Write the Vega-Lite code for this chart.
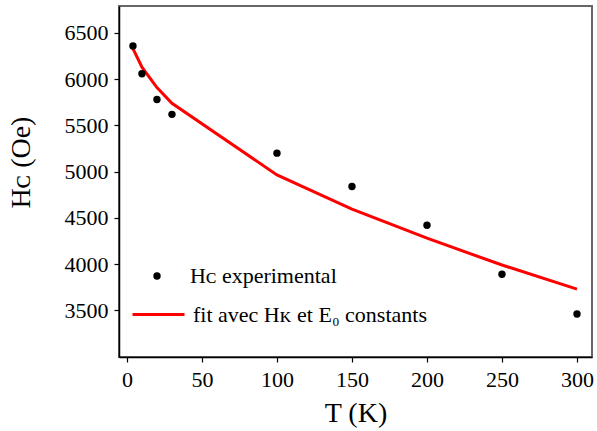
{
  "$schema": "https://vega.github.io/schema/vega-lite/v6.json",
  "width": 473,
  "height": 351,
  "autosize": {"type": "none"},
  "padding": {"left": 119, "top": 6, "right": 5, "bottom": 74},
  "background": "white",
  "config": {
    "view": {"stroke": "#666666", "strokeWidth": 2},
    "numberFormat": "d",
    "style": {
      "guide-label": {"font": "Liberation Serif", "fontSize": 22},
      "guide-title": {"font": "Liberation Serif", "fontSize": 28, "fontWeight": "normal"}
    },
    "axis": {
      "labelFontSize": 22,
      "labelColor": "black",
      "titleFontSize": 28,
      "titleFontWeight": "normal",
      "titleColor": "black",
      "domainColor": "black",
      "domainWidth": 1.5,
      "tickColor": "black",
      "tickWidth": 1.2,
      "tickSize": 5,
      "grid": false
    },
    "legend": {
      "labelFont": "Liberation Serif",
      "labelFontSize": 22,
      "labelColor": "black",
      "labelLimit": 500,
      "padding": 0
    }
  },
  "data": {
    "values": [
      {"T": 4, "H": 6360, "series": "Hᴄ experimental"},
      {"T": 10, "H": 6060, "series": "Hᴄ experimental"},
      {"T": 20, "H": 5780, "series": "Hᴄ experimental"},
      {"T": 30, "H": 5620, "series": "Hᴄ experimental"},
      {"T": 100, "H": 5200, "series": "Hᴄ experimental"},
      {"T": 150, "H": 4840, "series": "Hᴄ experimental"},
      {"T": 200, "H": 4420, "series": "Hᴄ experimental"},
      {"T": 250, "H": 3890, "series": "Hᴄ experimental"},
      {"T": 300, "H": 3460, "series": "Hᴄ experimental"},
      {"T": 4, "H": 6330, "series": "fit avec Hᴋ et E₀ constants"},
      {"T": 10, "H": 6130, "series": "fit avec Hᴋ et E₀ constants"},
      {"T": 20, "H": 5910, "series": "fit avec Hᴋ et E₀ constants"},
      {"T": 30, "H": 5740, "series": "fit avec Hᴋ et E₀ constants"},
      {"T": 100, "H": 4965, "series": "fit avec Hᴋ et E₀ constants"},
      {"T": 150, "H": 4595, "series": "fit avec Hᴋ et E₀ constants"},
      {"T": 200, "H": 4280, "series": "fit avec Hᴋ et E₀ constants"},
      {"T": 250, "H": 3990, "series": "fit avec Hᴋ et E₀ constants"},
      {"T": 300, "H": 3730, "series": "fit avec Hᴋ et E₀ constants"}
    ]
  },
  "encoding": {
    "x": {
      "field": "T", "type": "quantitative",
      "scale": {"domain": [-5.3, 310], "nice": false, "zero": false},
      "axis": {
        "title": "T (K)",
        "titleFont": "Liberation Serif",
        "labelFont": "Liberation Serif",
        "values": [0, 50, 100, 150, 200, 250, 300],
        "labelPadding": 7,
        "titlePadding": 9
      }
    },
    "y": {
      "field": "H", "type": "quantitative",
      "scale": {"domain": [2995, 6792], "nice": false, "zero": false},
      "axis": {
        "title": "Hᴄ (Oe)",
        "titleFont": "Liberation Serif",
        "labelFont": "Liberation Serif",
        "values": [3500, 4000, 4500, 5000, 5500, 6000, 6500],
        "labelPadding": 6,
        "titlePadding": 29,
        "titleY": 156
      }
    }
  },
  "layer": [
    {
      "transform": [{"filter": "datum.series === 'fit avec Hᴋ et E₀ constants'"}],
      "mark": {"type": "line", "strokeWidth": 3, "clip": true},
      "encoding": {
        "color": {
          "field": "series", "type": "nominal",
          "scale": {"domain": ["fit avec Hᴋ et E₀ constants"], "range": ["red"]},
          "legend": {
            "title": null,
            "orient": "none",
            "legendX": 12,
            "legendY": 281,
            "labelOffset": 7,
            "labelFont": "Liberation Serif",
            "symbolType": "stroke",
            "symbolSize": 2704,
            "symbolStrokeWidth": 3
          }
        }
      }
    },
    {
      "transform": [{"filter": "datum.series === 'Hᴄ experimental'"}],
      "mark": {"type": "point", "filled": true, "size": 55, "opacity": 1, "color": "black"},
      "encoding": {
        "shape": {
          "field": "series", "type": "nominal",
          "scale": {"domain": ["Hᴄ experimental"], "range": ["circle"]},
          "legend": {
            "title": null,
            "orient": "none",
            "legendX": 27,
            "legendY": 259,
            "labelOffset": 22,
            "labelFont": "Liberation Serif",
            "symbolSize": 55,
            "symbolFillColor": "black",
            "symbolStrokeWidth": 0
          }
        }
      }
    }
  ],
  "resolve": {"legend": {"color": "independent", "shape": "independent"}}
}
